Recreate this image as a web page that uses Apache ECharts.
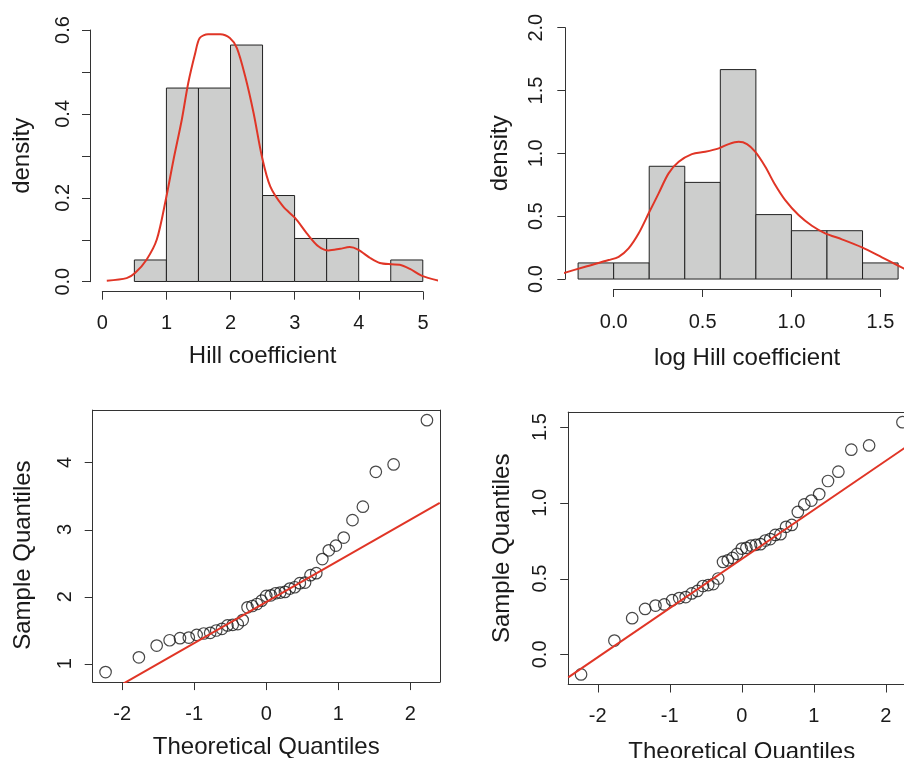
<!DOCTYPE html>
<html>
<head>
<meta charset="utf-8">
<script src="https://cdn.jsdelivr.net/npm/echarts@6/dist/echarts.min.js"></script>
<style>
html,body{margin:0;padding:0;background:#fff;}
#chart{width:904px;height:758px;}
</style>
</head>
<body>
<div id="chart"></div>
<script>
// ---- Data ----
const hillBreaks = [0.5, 1, 1.5, 2, 2.5, 3, 3.5, 4, 4.5, 5];
const hillDensity = [0.0513, 0.4615, 0.4615, 0.5641, 0.2051, 0.1026, 0.1026, 0, 0.0513];
const logBreaks = [-0.2, 0, 0.2, 0.4, 0.6, 0.8, 1.0, 1.2, 1.4, 1.6];
const logDensity = [0.1282, 0.1282, 0.8974, 0.7692, 1.6667, 0.5128, 0.3846, 0.3846, 0.1282];

const hillKdeX = [0.07, 0.38, 0.51, 0.69, 0.85, 0.99, 1.11, 1.24, 1.34, 1.45, 1.52, 1.65, 1.84, 1.99, 2.10, 2.23, 2.36, 2.49, 2.62, 2.82, 3.01, 3.19, 3.37, 3.53, 3.71, 3.86, 3.99, 4.18, 4.33, 4.51, 4.64, 4.80, 4.98, 5.24];
const hillKdeY = [0.002, 0.008, 0.02, 0.052, 0.10, 0.195, 0.29, 0.386, 0.473, 0.545, 0.581, 0.590, 0.590, 0.581, 0.557, 0.489, 0.402, 0.298, 0.227, 0.179, 0.151, 0.115, 0.084, 0.074, 0.078, 0.082, 0.076, 0.056, 0.044, 0.041, 0.040, 0.030, 0.014, 0.002];

const logKdeX = [-0.30, -0.160, -0.028, 0.028, 0.084, 0.141, 0.197, 0.253, 0.309, 0.366, 0.440, 0.515, 0.591, 0.647, 0.703, 0.750, 0.796, 0.853, 0.909, 0.965, 1.040, 1.115, 1.190, 1.284, 1.397, 1.509, 1.631, 1.700];
const logKdeY = [0.040, 0.098, 0.151, 0.177, 0.244, 0.364, 0.523, 0.682, 0.841, 0.933, 0.994, 1.013, 1.040, 1.074, 1.092, 1.074, 1.013, 0.893, 0.748, 0.628, 0.509, 0.424, 0.364, 0.316, 0.252, 0.173, 0.085, 0.050];

const theoQ = [-2.232, -1.769, -1.522, -1.342, -1.198, -1.076, -0.967, -0.869, -0.779, -0.695, -0.615, -0.539, -0.466, -0.396, -0.327, -0.260, -0.194, -0.129, -0.064, 0, 0.064, 0.129, 0.194, 0.260, 0.327, 0.396, 0.466, 0.539, 0.615, 0.695, 0.779, 0.869, 0.967, 1.076, 1.198, 1.342, 1.522, 1.769, 2.232];
const hillSorted = [0.876, 1.095, 1.27, 1.35, 1.38, 1.39, 1.43, 1.45, 1.46, 1.495, 1.52, 1.57, 1.58, 1.59, 1.65, 1.84, 1.86, 1.89, 1.94, 2.01, 2.02, 2.05, 2.06, 2.07, 2.12, 2.14, 2.20, 2.21, 2.32, 2.35, 2.56, 2.69, 2.76, 2.88, 3.14, 3.34, 3.86, 3.97, 4.63];
const logHillSorted = [-0.1324, 0.0908, 0.2390, 0.3001, 0.3221, 0.3293, 0.3577, 0.3716, 0.3784, 0.4021, 0.4187, 0.4511, 0.4574, 0.4637, 0.5008, 0.6098, 0.6206, 0.6366, 0.6627, 0.6981, 0.7031, 0.7178, 0.7227, 0.7275, 0.7514, 0.7608, 0.7885, 0.7930, 0.8416, 0.8544, 0.9400, 0.9895, 1.0152, 1.0578, 1.1442, 1.2060, 1.3507, 1.3788, 1.5326];
const hillQQLine = [[-2.41, 0.443], [2.41, 3.397]];
const logQQLine = [[-2.41, -0.152], [2.41, 1.410]];

const qqXTicks = [-2, -1, 0, 1, 2];
const hillQQYTicks = [1, 2, 3, 4];
const logQQYTicks = [0, 0.5, 1.0, 1.5];

// plot-region ranges of the Q-Q panels
const qqXRange = [-2.4106, 2.4106];
const hillQQYRange = [0.726, 4.780];
const logQQYRange = [-0.1989, 1.5990];

// ---- Styles ----
const FONT = 'Liberation Sans, Arial, Helvetica, sans-serif';
const TXT = '#1a1a1a';
const AX = '#333333';
const RED = '#e03526';
const FILL = '#cdcecd';
const TICK_LEN = 8;

function lbl(extra) {
  return Object.assign({color: TXT, fontSize: 20, fontFamily: FONT}, extra);
}
function nameStyle(extra) {
  return Object.assign({color: TXT, fontSize: 24, fontFamily: FONT}, extra || {});
}

const chart = echarts.init(document.getElementById('chart'), null, {renderer: 'canvas'});

const G = (o) => Object.assign({outerBoundsMode: 'none', containLabel: false}, o);
const grids = [
  // data regions (plot regions)
  G({left: 89.5, top: 19.94, width: 346.1, height: 271.6}),
  G({left: 565.3, top: 17.65, width: 345.6, height: 271.45}),
  G({left: 92.7, top: 410.1, width: 347.1, height: 272.0}),
  G({left: 568.2, top: 412.1, width: 347.1, height: 272.4}),
  // axis-only regions (tick ranges) for the histograms
  G({left: 102.3, top: 30, width: 320.7, height: 251.7}),
  G({left: 613.7, top: 27.7, width: 266.7, height: 251.3})
];

const tick = {show: true, length: TICK_LEN, inside: false, lineStyle: {color: AX, width: 1}};
const axLine = {show: true, onZero: false, lineStyle: {color: AX, width: 1}};
const hidden = (g, min, max) => ({gridIndex: g, type: 'value', min: min, max: max, show: false,
  axisLine: {show: false, onZero: false}, splitLine: {show: false}, axisTick: {show: false}, axisLabel: {show: false}});
// box side drawn as a bare axis line
const boxSide = (g, pos, min, max) => ({gridIndex: g, type: 'value', min: min, max: max, position: pos,
  axisLine: axLine, axisTick: {show: false}, axisLabel: {show: false}, splitLine: {show: false}});

const xAxes = [
  hidden(0, -0.2, 5.2),
  hidden(1, -0.272, 1.672),
  {gridIndex: 2, type: 'value', min: qqXRange[0], max: qqXRange[1], position: 'bottom',
   axisLine: axLine, axisTick: {show: false}, splitLine: {show: false},
   axisLabel: lbl({margin: 22, customValues: qqXTicks, formatter: v => String(v)}),
   name: 'Theoretical Quantiles', nameLocation: 'middle', nameGap: 53, nameTextStyle: nameStyle()},
  {gridIndex: 3, type: 'value', min: qqXRange[0], max: qqXRange[1], position: 'bottom',
   axisLine: axLine, axisTick: {show: false}, splitLine: {show: false},
   axisLabel: lbl({margin: 22, customValues: qqXTicks, formatter: v => String(v)}),
   name: 'Theoretical Quantiles', nameLocation: 'middle', nameGap: 56, nameTextStyle: nameStyle()},
  {gridIndex: 4, type: 'value', min: 0, max: 5, interval: 1, position: 'bottom', offset: 10,
   axisLine: axLine, axisTick: tick, splitLine: {show: false},
   axisLabel: lbl({margin: 22, formatter: v => String(v)}),
   name: 'Hill coefficient', nameLocation: 'middle', nameGap: 53, nameTextStyle: nameStyle()},
  {gridIndex: 5, type: 'value', min: 0, max: 1.5, interval: 0.5, position: 'bottom', offset: 10,
   axisLine: axLine, axisTick: tick, splitLine: {show: false},
   axisLabel: lbl({margin: 23, formatter: v => v.toFixed(1)}),
   name: 'log Hill coefficient', nameLocation: 'middle', nameGap: 57, nameTextStyle: nameStyle()},
  boxSide(2, 'top', qqXRange[0], qqXRange[1]),
  boxSide(3, 'top', qqXRange[0], qqXRange[1])
];

const yAxes = [
  hidden(0, -0.024, 0.624),
  hidden(1, -0.08, 2.08),
  {gridIndex: 2, type: 'value', min: hillQQYRange[0], max: hillQQYRange[1], position: 'left',
   axisLine: axLine, axisTick: {show: false}, splitLine: {show: false},
   axisLabel: lbl({rotate: 90, margin: 17, customValues: hillQQYTicks, formatter: v => String(v)}),
   name: 'Sample Quantiles', nameLocation: 'middle', nameGap: 57, nameRotate: 90,
   nameTextStyle: nameStyle({padding: [0, 18, 0, 0]})},
  {gridIndex: 3, type: 'value', min: logQQYRange[0], max: logQQYRange[1], position: 'left',
   axisLine: axLine, axisTick: {show: false}, splitLine: {show: false},
   axisLabel: lbl({rotate: 90, margin: 18, customValues: logQQYTicks, formatter: v => v.toFixed(1)}),
   name: 'Sample Quantiles', nameLocation: 'middle', nameGap: 54, nameRotate: 90, nameTextStyle: nameStyle()},
  {gridIndex: 4, type: 'value', min: 0, max: 0.6, interval: 0.1, position: 'left', offset: 12.3,
   axisLine: axLine, axisTick: tick, splitLine: {show: false},
   axisLabel: lbl({rotate: 90, margin: 17, formatter: v => (Math.round(v * 10) % 2 === 0 ? v.toFixed(1) : '')}),
   name: 'density', nameLocation: 'middle', nameGap: 55.6, nameRotate: 90, nameTextStyle: nameStyle()},
  {gridIndex: 5, type: 'value', min: 0, max: 2, interval: 0.5, position: 'left', offset: 48.4,
   axisLine: axLine, axisTick: tick, splitLine: {show: false},
   axisLabel: lbl({rotate: 90, margin: 19, formatter: v => v.toFixed(1)}),
   name: 'density', nameLocation: 'middle', nameGap: 53, nameRotate: 90, nameTextStyle: nameStyle()},
  boxSide(2, 'right', hillQQYRange[0], hillQQYRange[1]),
  boxSide(3, 'right', logQQYRange[0], logQQYRange[1])
];

function histSeries(idx, breaks, dens) {
  const data = dens.map((d, i) => [breaks[i], breaks[i + 1], d]);
  return {
    type: 'custom', xAxisIndex: idx, yAxisIndex: idx, data: data, clip: false, silent: true,
    encode: {x: [0, 1], y: 2},
    renderItem: function (params, api) {
      const a = api.coord([api.value(0), api.value(2)]);
      const b = api.coord([api.value(1), 0]);
      return {
        type: 'polygon',
        shape: {points: [[a[0], b[1]], [a[0], a[1]], [b[0], a[1]], [b[0], b[1]]]},
        style: {fill: FILL, stroke: '#222', lineWidth: 1}
      };
    }
  };
}
function curveSeries(idx, xs, ys) {
  return {
    type: 'line', xAxisIndex: idx, yAxisIndex: idx, data: xs.map((x, i) => [x, ys[i]]),
    showSymbol: false, symbol: 'none', smooth: 0.3, clip: true, silent: true,
    lineStyle: {color: RED, width: 2}, z: 5
  };
}
function qqSeries(idx, xs, ys) {
  return {
    type: 'scatter', xAxisIndex: idx, yAxisIndex: idx, data: xs.map((x, i) => [x, ys[i]]),
    symbol: 'circle', symbolSize: 11.5, silent: true, clip: false,
    itemStyle: {color: 'rgba(0,0,0,0)', borderColor: '#1a1a1a', borderWidth: 1.2}, z: 3
  };
}
function lineSeries(idx, pts) {
  return {
    type: 'line', xAxisIndex: idx, yAxisIndex: idx, data: pts, showSymbol: false, symbol: 'none',
    clip: true, silent: true, lineStyle: {color: RED, width: 2}, z: 4
  };
}

chart.setOption({
  animation: false,
  grid: grids,
  xAxis: xAxes,
  yAxis: yAxes,
  series: [
    histSeries(0, hillBreaks, hillDensity),
    curveSeries(0, hillKdeX, hillKdeY),
    histSeries(1, logBreaks, logDensity),
    curveSeries(1, logKdeX, logKdeY),
    qqSeries(2, theoQ, hillSorted),
    lineSeries(2, hillQQLine),
    qqSeries(3, theoQ, logHillSorted),
    lineSeries(3, logQQLine)
  ]
});

// ---- tick marks on the Q-Q boxes, positioned through each panel's own axes ----
const tickEls = [];
function toPx(seriesIdx, gridIdx, pt) {
  let p = null;
  try { p = chart.convertToPixel({seriesIndex: seriesIdx}, pt); } catch (e) { p = null; }
  if (!p || isNaN(p[0]) || isNaN(p[1])) {
    try { p = chart.convertToPixel({gridIndex: gridIdx}, pt); } catch (e) { p = null; }
  }
  return (p && !isNaN(p[0]) && !isNaN(p[1])) ? p : null;
}
function addTicks(seriesIdx, gridIdx, xTicks, yTicks, xMin, yMin) {
  xTicks.forEach(v => {
    const p = toPx(seriesIdx, gridIdx, [v, yMin]);
    if (p) {
      const x = Math.round(p[0]) + 0.5;
      tickEls.push({type: 'line', silent: true, z: 100,
        shape: {x1: x, y1: p[1], x2: x, y2: p[1] + TICK_LEN}, style: {stroke: AX, lineWidth: 1}});
    }
  });
  yTicks.forEach(v => {
    const p = toPx(seriesIdx, gridIdx, [xMin, v]);
    if (p) {
      const y = Math.round(p[1]) + 0.5;
      tickEls.push({type: 'line', silent: true, z: 100,
        shape: {x1: p[0], y1: y, x2: p[0] - TICK_LEN, y2: y}, style: {stroke: AX, lineWidth: 1}});
    }
  });
}
addTicks(4, 2, qqXTicks, hillQQYTicks, qqXRange[0], hillQQYRange[0]);
addTicks(6, 3, qqXTicks, logQQYTicks, qqXRange[0], logQQYRange[0]);
chart.setOption({graphic: tickEls});
</script>
</body>
</html>
